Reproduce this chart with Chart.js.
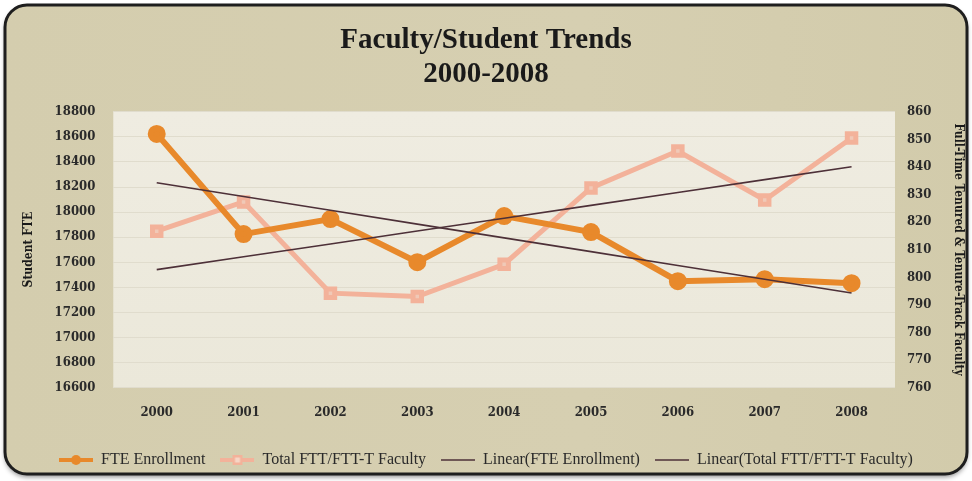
<!DOCTYPE html>
<html>
<head>
<meta charset="utf-8">
<script src="https://cdn.jsdelivr.net/npm/chart.js@4"></script>
<style>
  html, body { margin: 0; padding: 0; background: #ffffff; }
  #wrap { width: 972px; height: 481px; position: relative; }
</style>
</head>
<body>
<div id="wrap"><canvas id="trendChart" width="972" height="481"></canvas></div>
<script>
const years = ['2000', '2001', '2002', '2003', '2004', '2005', '2006', '2007', '2008'];
const fteEnrollment = [18624, 17824, 17944, 17600, 17968, 17840, 17448, 17464, 17432];
const facultyTotal = [816.7, 827.3, 794.2, 793, 804.7, 832.4, 845.8, 828, 850.5];

// least-squares trend, like Excel's "Linear(...)" series
function linearTrend(values) {
    const n = values.length;
    const mx = (n - 1) / 2;
    const my = values.reduce((a, b) => a + b, 0) / n;
    let num = 0, den = 0;
    values.forEach((v, i) => { num += (i - mx) * (v - my); den += (i - mx) * (i - mx); });
    const slope = num / den;
    return values.map((v, i) => my + slope * (i - mx));
}

const serif = "'Liberation Serif', 'DejaVu Serif', serif";
const condSerif = "'DejaVu Serif Condensed', 'DejaVu Serif', serif";
const orange = '#e8892b';
const salmon = '#f3b29a';
const trendColor = '#4d3038';

// small legend swatches: line with a marker in the middle, Excel style
function swatch(color, lineW, marker) {
    const c = document.createElement('canvas');
    c.width = 34; c.height = 14;
    const g = c.getContext('2d');
    g.strokeStyle = color;
    g.lineWidth = lineW;
    g.beginPath(); g.moveTo(0, 7); g.lineTo(34, 7); g.stroke();
    g.fillStyle = color;
    if (marker === 'circle') { g.beginPath(); g.arc(17, 7, 5, 0, Math.PI * 2); g.fill(); }
    if (marker === 'rect') { g.fillRect(12, 2, 10, 10); g.fillStyle = '#f6d6c6'; g.fillRect(14.5, 4.5, 5, 5); }
    return c;
}
const legendMarks = [swatch(orange, 4, 'circle'), swatch(salmon, 4, 'rect'), swatch(trendColor, 1.6), swatch(trendColor, 1.6)];

const frame = {
    id: 'frame',
    beforeDraw(chart) {
        const { ctx, chartArea: a } = chart;
        ctx.save();
        const x = 5, y = 5, w = 962, h = 469, r = 22;
        ctx.shadowColor = 'rgba(0,0,0,0.45)';
        ctx.shadowBlur = 5;
        ctx.shadowOffsetY = 3;
        ctx.beginPath();
        ctx.roundRect(x, y, w, h, r);
        const g = ctx.createLinearGradient(0, 0, 972, 0);
        g.addColorStop(0, '#d4cdae');
        g.addColorStop(0.6, '#d6cfb1');
        g.addColorStop(1, '#d2cbab');
        ctx.fillStyle = g;
        ctx.fill();
        ctx.shadowColor = 'transparent';
        ctx.lineWidth = 3;
        ctx.strokeStyle = '#1e1e1e';
        ctx.stroke();
        // plot area
        const pg = ctx.createLinearGradient(0, a.top, 0, a.bottom);
        pg.addColorStop(0, '#efece1');
        pg.addColorStop(1, '#ebe8da');
        ctx.fillStyle = pg;
        ctx.fillRect(a.left, a.top, a.right - a.left, a.bottom - a.top);
        ctx.restore();
    }
};

const tickFont = { family: condSerif, size: 13, weight: 'bold' };
const axisTitleFont = { family: condSerif, size: 12, weight: 'bold', lineHeight: 1.3 };

new Chart('trendChart', {
    type: 'line',
    data: {
        labels: years,
        datasets: [{
            label: 'FTE Enrollment',
            data: fteEnrollment,
            yAxisID: 'y',
            borderColor: orange,
            backgroundColor: orange,
            borderWidth: 6,
            pointRadius: 6,
            pointStyle: 'circle',
            order: 1
        },
        {
            label: 'Total FTT/FTT-T Faculty',
            data: facultyTotal,
            yAxisID: 'y1',
            borderColor: salmon,
            backgroundColor: '#f0c9b7',
            borderWidth: 5,
            pointRadius: 6,
            pointStyle: 'rect',
            order: 2
        },
        {
            label: 'Linear(FTE Enrollment)',
            data: linearTrend(fteEnrollment),
            yAxisID: 'y',
            borderColor: trendColor,
            borderWidth: 1.6,
            pointRadius: 0,
            order: 0
        },
        {
            label: 'Linear(Total FTT/FTT-T Faculty)',
            data: linearTrend(facultyTotal),
            yAxisID: 'y1',
            borderColor: trendColor,
            borderWidth: 1.6,
            pointRadius: 0,
            order: 0
        }]
    },
    options: {
        responsive: false,
        animation: false,
        layout: { padding: { left: 0, right: 0, top: 0, bottom: 3 } },
        plugins: {
            title: {
                display: true,
                text: ['Faculty/Student Trends', '2000-2008'],
                color: '#1a1a1a',
                font: { family: serif, size: 29, weight: 'bold', lineHeight: 1.17 },
                padding: { top: 24, bottom: 20 }
            },
            legend: {
                position: 'bottom',
                labels: {
                    usePointStyle: true,
                    pointStyleWidth: 34,
                    color: '#2a2a2a',
                    font: { family: serif, size: 16 },
                    padding: 15,
                    generateLabels(chart) {
                        return chart.data.datasets.map((ds, i) => ({
                            text: ds.label,
                            datasetIndex: i,
                            pointStyle: legendMarks[i],
                            fontColor: '#2a2a2a',
                            lineWidth: 0,
                            strokeStyle: 'transparent',
                            fillStyle: 'transparent'
                        }));
                    }
                }
            },
            tooltip: { enabled: false }
        },
        scales: {
            x: {
                offset: true,
                grid: { display: false, drawTicks: false },
                border: { display: false },
                ticks: { color: '#2a2a2a', font: tickFont, padding: 17 }
            },
            y: {
                position: 'left',
                min: 16600,
                max: 18800,
                ticks: { stepSize: 200, color: '#2a2a2a', font: tickFont, padding: 18, callback: v => String(v) },
                grid: { color: '#e0dccd', drawTicks: false },
                border: { display: false },
                title: { display: true, text: 'Student FTE', color: '#1a1a1a', font: axisTitleFont, padding: { top: 21, bottom: 0 } }
            },
            y1: {
                position: 'right',
                min: 760,
                max: 860,
                ticks: { stepSize: 10, color: '#2a2a2a', font: tickFont, padding: 12, callback: v => String(v) },
                grid: { display: false, drawTicks: false },
                border: { display: false },
                title: { display: true, text: 'Full-Time Tenured & Tenure-Track Faculty', color: '#1a1a1a', font: axisTitleFont, padding: { top: 6, bottom: 7 } }
            }
        }
    },
    plugins: [frame]
});
</script>
</body>
</html>
